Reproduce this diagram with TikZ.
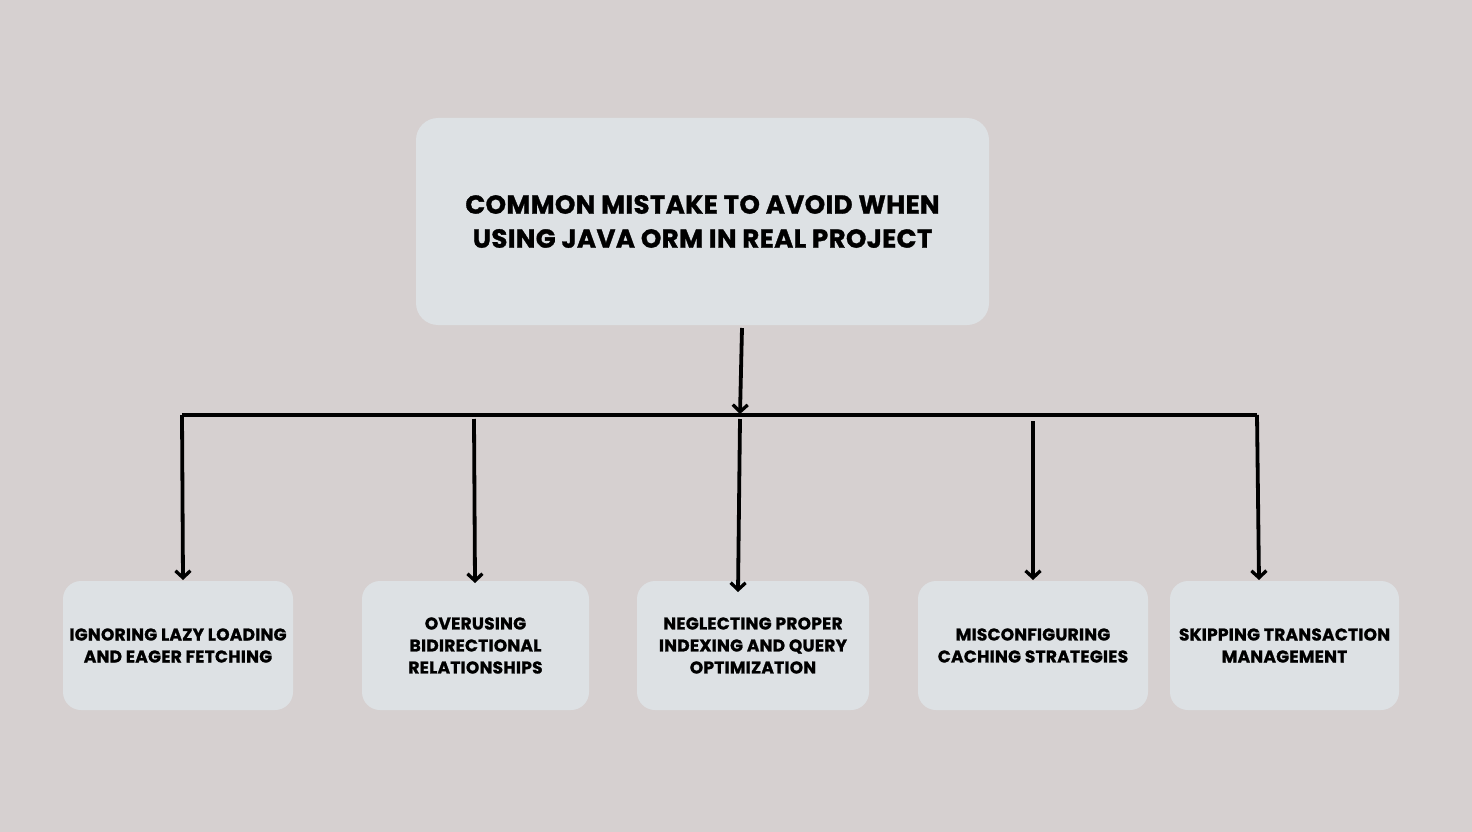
\documentclass[tikz,border=0pt]{standalone}
\usepackage{fontspec}
\setmainfont{Poppins}[BoldFont={* Bold}, BoldFeatures={FakeBold=1.2, LetterSpace=1.5}]
\usetikzlibrary{arrows.meta}
\definecolor{bg}{HTML}{D6D0D0}
\definecolor{boxc}{HTML}{DDE1E4}
\tikzset{
  box/.style={fill=boxc, rounded corners=18pt, draw=none, inner sep=0pt, align=center, font=\bfseries\fontsize{17}{22}\selectfont},
  conn/.style={line width=3.8pt, draw=black},
  arr/.style={conn, -{Straight Barb[length=7pt,width=15pt,line width=3.3pt]}}
}
\begin{document}
\begin{tikzpicture}[x=1pt,y=-1pt]
\fill[bg] (0,0) rectangle (1472,832);
\useasboundingbox (0,0) rectangle (1472,832);
\node[box, rounded corners=22pt, minimum width=573pt, minimum height=207pt, font=\bfseries\fontsize{26}{34}\selectfont] (top) at (702.5,221.5) {COMMON MISTAKE TO AVOID WHEN\\USING JAVA ORM IN REAL PROJECT};
\node[box, minimum width=230pt, minimum height=129pt] (b1) at (178,645.5) {IGNORING LAZY LOADING\\AND EAGER FETCHING};
\node[box, minimum width=227pt, minimum height=129pt] (b2) at (475.5,645.5) {OVERUSING\\BIDIRECTIONAL\\RELATIONSHIPS};
\node[box, minimum width=232pt, minimum height=129pt] (b3) at (753,645.5) {NEGLECTING PROPER\\INDEXING AND QUERY\\OPTIMIZATION};
\node[box, minimum width=230pt, minimum height=129pt] (b4) at (1033,645.5) {MISCONFIGURING\\CACHING STRATEGIES};
\node[box, minimum width=229pt, minimum height=129pt] (b5) at (1284.5,645.5) {SKIPPING TRANSACTION\\MANAGEMENT};
% connector points
\coordinate (s0) at (742,328);
\coordinate (bc) at (740,414);
\coordinate (bl) at (182,415);
\coordinate (br) at (1257,415);
\coordinate (s2) at (474,419);
\coordinate (s3) at (740,419);
\coordinate (s4) at (1033,421);
\coordinate (e1) at (183,580);
\coordinate (e2) at (475,583);
\coordinate (e3) at (738,592);
\coordinate (e4) at (1033,580);
\coordinate (e5) at (1259,580);
\draw[arr] (s0) -- (bc);
\draw[conn, line cap=butt] (bl) -- (br);
\draw[arr] (bl) -- (e1);
\draw[arr] (br) -- (e5);
\draw[arr] (s2) -- (e2);
\draw[arr] (s3) -- (e3);
\draw[arr] (s4) -- (e4);
\end{tikzpicture}
\end{document}
